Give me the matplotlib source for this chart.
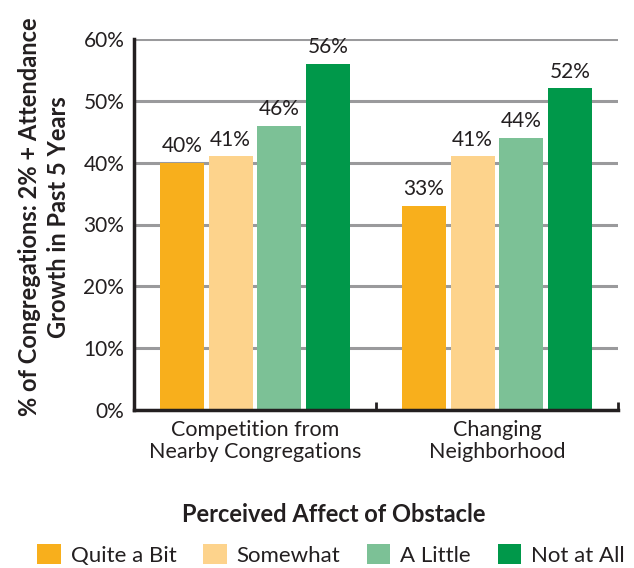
import matplotlib.pyplot as plt
import numpy as np
from matplotlib.patches import Patch

plt.rcParams['font.family'] = ['Lato', 'DejaVu Sans']

categories = ["Competition from\nNearby Congregations", "Changing\nNeighborhood"]
series = ["Quite a Bit", "Somewhat", "A Little", "Not at All"]
values = {
    "Quite a Bit": [40, 33],
    "Somewhat": [41, 41],
    "A Little": [46, 44],
    "Not at All": [56, 52],
}
colors = ["#F8AF1C", "#FDD38C", "#7CC196", "#00984A"]


def main():
    fig = plt.figure(figsize=(6.34, 5.68), dpi=100)
    ax = fig.add_axes([134 / 634, 1 - 410 / 568, 484 / 634, 371 / 568])

    x = np.arange(len(categories))
    width = 0.182
    step = 0.201
    for i, (name, col) in enumerate(zip(series, colors)):
        pos = x + (i - 1.5) * step
        vals = values[name]
        ax.bar(pos, vals, width=width, color=col, zorder=3)
        for p, v in zip(pos, vals):
            ax.text(p, v + 1.1, f"{v}%", ha="center", va="bottom",
                    fontsize=15, color="#231f20")

    ax.set_xlim(-0.5, 1.5)
    ax.set_ylim(0, 60)
    ax.set_yticks(range(0, 61, 10))
    ax.set_yticklabels([f"{t}%" for t in range(0, 61, 10)], fontsize=15, color="#231f20")
    ax.yaxis.grid(True, color="#9a9a9c", linewidth=2.2, zorder=0)
    ax.tick_params(axis="y", length=0, pad=7)

    ax.set_xticks([0.5, 1.5], minor=True)
    ax.set_xticks(x)
    ax.set_xticklabels(categories, fontsize=15.5, color="#231f20", linespacing=1.15)
    ax.tick_params(axis="x", which="major", length=0, pad=7)
    ax.tick_params(axis="x", which="minor", direction="in", length=6, width=2, color="#231f20")

    for s in ["top", "right"]:
        ax.spines[s].set_visible(False)
    for s in ["left", "bottom"]:
        ax.spines[s].set_linewidth(2.5)
        ax.spines[s].set_color("#231f20")
        ax.spines[s].set_zorder(4)

    fig.text(44 / 634, 1 - 217 / 568,
             "% of Congregations: 2% + Attendance\nGrowth in Past 5 Years",
             rotation=90, ha="center", va="center", fontsize=17,
             fontweight="bold", color="#231f20", multialignment="center",
             linespacing=1.35)

    fig.text(334 / 634, 1 - 514 / 568, "Perceived Affect of Obstacle",
             ha="center", va="center", fontsize=17, fontweight="bold", color="#231f20")

    handles = [Patch(facecolor=c, edgecolor="none") for c in colors]
    fig.legend(handles, series, loc="center", bbox_to_anchor=(331 / 634, 1 - 555 / 568),
               ncol=4, frameon=False, fontsize=16, handlelength=1.05, handleheight=1.0,
               handletextpad=0.45, columnspacing=1.2, labelcolor="#231f20",
               borderaxespad=0, borderpad=0)

    fig.savefig("out.png", dpi=100)


if __name__ == "__main__":
    main()
